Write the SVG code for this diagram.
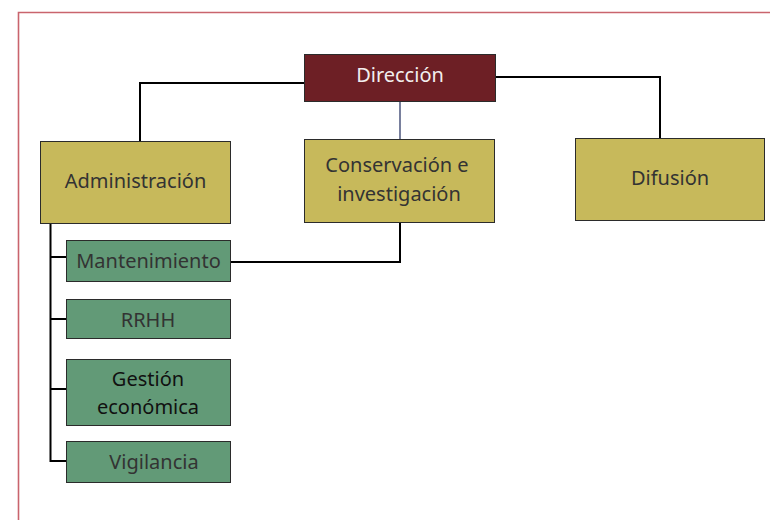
<svg xmlns="http://www.w3.org/2000/svg" width="770" height="520" viewBox="0 0 770 520">
  <style>
    .box { stroke: #2b2b2b; stroke-width: 1; }
    .dir { fill: #6d1f25; }
    .yel { fill: #c7b95b; }
    .grn { fill: #629a77; }
    .lbl { font-family: "Noto Sans", "Open Sans", sans-serif; font-size: 20px; text-anchor: middle; fill: #333333; }
    .wht { fill: #f2eeee; }
    .blk { fill: #111111; }
    .conn { fill: none; stroke: #000000; stroke-width: 2; }
  </style>
  <rect width="770" height="520" fill="#ffffff"/>
  <path d="M18.5 520 V12.5 H770" fill="none" stroke="#c9646d" stroke-width="1.6"/>
  <g id="connectors">
    <path class="conn" d="M304 83 H140 V141"/>
    <path class="conn" d="M496 77 H660 V138"/>
    <path d="M400 102 V139" fill="none" stroke="#1f2a5c" stroke-width="1.2"/>
    <path class="conn" d="M231 262 H400 V223"/>
    <path class="conn" d="M50.5 224 V461 H66"/>
    <path class="conn" d="M50.5 257 H66"/>
    <path class="conn" d="M50.5 319 H66"/>
    <path class="conn" d="M50.5 389 H66"/>
  </g>
  <g id="direccion">
    <rect class="box dir" x="304.5" y="54.5" width="191" height="47"/>
    <text class="lbl wht" x="400" y="82">Dirección</text>
  </g>
  <g id="administracion">
    <rect class="box yel" x="40.5" y="141.5" width="190" height="82"/>
    <text class="lbl" x="135.5" y="188">Administración</text>
  </g>
  <g id="conservacion">
    <rect class="box yel" x="304.5" y="139.5" width="190" height="83"/>
    <text class="lbl" x="397" y="172">Conservación e</text>
    <text class="lbl" x="399" y="201">investigación</text>
  </g>
  <g id="difusion">
    <rect class="box yel" x="575.5" y="138.5" width="189" height="82"/>
    <text class="lbl" x="670" y="185">Difusión</text>
  </g>
  <g id="mantenimiento">
    <rect class="box grn" x="66.5" y="240.5" width="164" height="41"/>
    <text class="lbl" x="148.5" y="268">Mantenimiento</text>
  </g>
  <g id="rrhh">
    <rect class="box grn" x="66.5" y="299.5" width="164" height="39"/>
    <text class="lbl" x="148" y="327">RRHH</text>
  </g>
  <g id="gestion">
    <rect class="box grn" x="66.5" y="359.5" width="164" height="66"/>
    <text class="lbl blk" x="148" y="386">Gestión</text>
    <text class="lbl blk" x="148" y="414">económica</text>
  </g>
  <g id="vigilancia">
    <rect class="box grn" x="66.5" y="441.5" width="164" height="41"/>
    <text class="lbl" x="154" y="469">Vigilancia</text>
  </g>
</svg>
